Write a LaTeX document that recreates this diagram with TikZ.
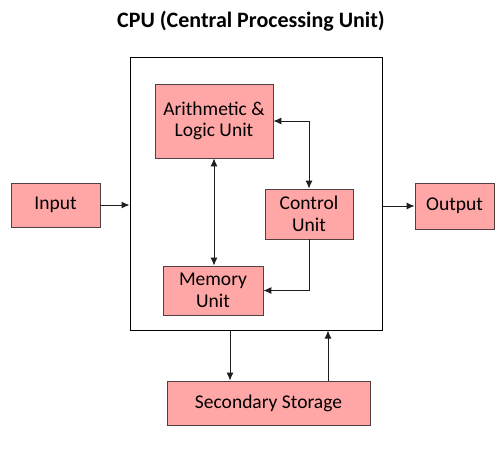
\documentclass[tikz,border=0pt]{standalone}
\usepackage{fontspec}
\setmainfont{Carlito}
\usepackage{xcolor}
\usepackage{tikz}
\usetikzlibrary{positioning,arrows.meta}

\definecolor{unitpink}{RGB}{255,166,166}
\definecolor{unitedge}{RGB}{80,64,64}
\definecolor{wire}{RGB}{30,30,30}

\begin{document}
\begin{tikzpicture}[x=1pt,y=-1pt,
  unit/.style={draw=unitedge,fill=unitpink,line width=0.9pt,align=center,inner sep=0pt,font=\fontsize{19.5}{21.5}\selectfont},
  link/.style={-{Latex[length=8pt,width=7pt]},draw=wire,line width=1pt},
  twoway/.style={{Latex[length=8pt,width=7pt]}-{Latex[length=8pt,width=7pt]},draw=wire,line width=1pt}]

\useasboundingbox[fill=white] (0,0) rectangle (503,464);

\node[font=\bfseries\fontsize{22}{26}\selectfont] (title) at (251,21) {CPU (Central Processing Unit)};

\node[draw=black,line width=1pt,minimum width=252pt,minimum height=273pt] (cpu) at (256,193.5) {};

  \node[unit,minimum width=118pt,minimum height=74pt] (alu) at (214,121) {Arithmetic \&\\Logic Unit};
  \node[unit,minimum width=88pt,minimum height=50pt] (ctrl) at (309,214) {Control\\Unit};
  \node[unit,minimum width=100pt,minimum height=49pt] (mem) at (213,290.5) {Memory\\Unit};

  \node[unit,minimum width=89pt,minimum height=44pt] (input) at (55.5,205) {Input};
  \node[unit,minimum width=79pt,minimum height=46pt] (output) at (454.5,206) {Output};
  \node[unit,minimum width=203pt,minimum height=44pt] (store) at (268.5,403) {Secondary Storage};

  \coordinate (down) at ([xshift=-38.5pt]store.north);
  \coordinate (up) at ([xshift=59.5pt]store.north);

  \draw[link] (input.east) -- (input.east -| cpu.west);
  \draw[link] (cpu.east |- output.west) -- (output.west);
  \draw[twoway] (alu.south) -- (alu.south |- mem.north);
  \draw[twoway] (alu.east) -| (ctrl.north);
  \draw[link] (ctrl.south) |- (mem.east);
  \draw[link] (down |- cpu.south) -- (down);
  \draw[link] (up) -- (up |- cpu.south);
\end{tikzpicture}
\end{document}
